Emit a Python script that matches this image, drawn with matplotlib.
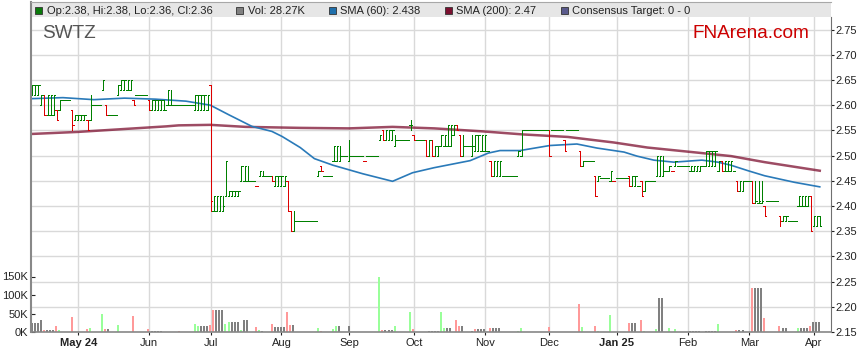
import numpy as np
import pandas as pd
import matplotlib
matplotlib.use("Agg")
import matplotlib.pyplot as plt
from matplotlib.patches import Rectangle

plt.rcParams["font.family"] = ["Liberation Sans", "DejaVu Sans"]

# daily bars, first trading day 10 Apr 2024 (weekdays only)
opens = [
    2.62, 2.62, 2.62, 2.60, 2.62, 2.58, 2.58, 2.58, 2.59, 2.59,
    2.61, 2.61, 2.61, 2.59, 2.57, 2.57, 2.57, 2.57, 2.57, 2.57,
    2.60, 2.60, 2.60, 2.63, 2.60, 2.58, 2.58, 2.58, 2.62, 2.63,
    2.63, 2.63, 2.63, 2.61, 2.62, 2.62, 2.62, 2.62, 2.61, 2.59,
    2.59, 2.59, 2.59, 2.59, 2.60, 2.60, 2.60, 2.60, 2.60, 2.60,
    2.60, 2.60, 2.60, 2.59, 2.59, 2.59, 2.59, 2.59, 2.64, 2.39,
    2.39, 2.39, 2.39, 2.42, 2.42, 2.42, 2.42, 2.42, 2.45, 2.45,
    2.45, 2.45, 2.45, 2.44, 2.46, 2.46, 2.46, 2.46, 2.46, 2.44,
    2.44, 2.44, 2.44, 2.45, 2.39, 2.35, 2.37, 2.37, 2.37, 2.37,
    2.37, 2.37, 2.37, 2.46, 2.48, 2.46, 2.46, 2.46, 2.49, 2.49,
    2.49, 2.50, 2.50, 2.49, 2.50, 2.50, 2.50, 2.50, 2.49, 2.50,
    2.50, 2.50, 2.50, 2.53, 2.55, 2.53, 2.53, 2.53, 2.52, 2.53,
    2.53, 2.53, 2.53, 2.56, 2.54, 2.53, 2.53, 2.53, 2.53, 2.50,
    2.53, 2.50, 2.50, 2.52, 2.52, 2.52, 2.52, 2.54, 2.56, 2.54,
    2.50, 2.52, 2.52, 2.50, 2.51, 2.51, 2.51, 2.51, 2.51, 2.49,
    2.46, 2.46, 2.46, 2.46, 2.46, 2.46, 2.46, 2.46, 2.50, 2.50,
    2.55, 2.55, 2.55, 2.55, 2.55, 2.55, 2.55, 2.55, 2.55, 2.55,
    2.55, 2.55, 2.55, 2.53, 2.55, 2.55, 2.55, 2.55, 2.51, 2.48,
    2.49, 2.49, 2.49, 2.46, 2.45, 2.455, 2.455, 2.455, 2.45, 2.45,
    2.455, 2.455, 2.455, 2.455, 2.46, 2.44, 2.44, 2.44, 2.45, 2.43,
    2.45, 2.45, 2.45, 2.46, 2.46, 2.46, 2.47, 2.47, 2.47, 2.48,
    2.48, 2.48, 2.48, 2.48, 2.47, 2.47, 2.47, 2.47, 2.48, 2.48,
    2.48, 2.48, 2.48, 2.47, 2.49, 2.47, 2.47, 2.47, 2.47, 2.45,
    2.43, 2.43, 2.45, 2.45, 2.45, 2.405, 2.405, 2.405, 2.40, 2.41,
    2.41, 2.41, 2.41, 2.38, 2.37, 2.37, 2.37, 2.37, 2.37, 2.40,
    2.40, 2.40, 2.40, 2.42, 2.36, 2.36, 2.38,
]
highs = [
    2.64, 2.64, 2.64, 2.62, 2.62, 2.62, 2.62, 2.62, 2.59, 2.61,
    2.61, 2.61, 2.61, 2.59, 2.58, 2.58, 2.58, 2.58, 2.57, 2.62,
    2.60, 2.60, 2.60, 2.65, 2.60, 2.58, 2.58, 2.58, 2.64, 2.65,
    2.65, 2.65, 2.65, 2.61, 2.62, 2.62, 2.62, 2.62, 2.61, 2.61,
    2.61, 2.61, 2.61, 2.61, 2.63, 2.63, 2.60, 2.60, 2.60, 2.60,
    2.60, 2.60, 2.60, 2.62, 2.62, 2.62, 2.62, 2.62, 2.64, 2.42,
    2.42, 2.42, 2.42, 2.49, 2.43, 2.43, 2.43, 2.43, 2.48, 2.48,
    2.48, 2.45, 2.45, 2.44, 2.47, 2.47, 2.46, 2.46, 2.46, 2.46,
    2.46, 2.46, 2.46, 2.45, 2.39, 2.39, 2.37, 2.37, 2.37, 2.37,
    2.37, 2.37, 2.37, 2.47, 2.48, 2.46, 2.46, 2.46, 2.52, 2.52,
    2.52, 2.50, 2.50, 2.53, 2.50, 2.50, 2.50, 2.50, 2.49, 2.50,
    2.50, 2.50, 2.50, 2.54, 2.55, 2.55, 2.55, 2.55, 2.54, 2.53,
    2.53, 2.53, 2.53, 2.57, 2.54, 2.53, 2.53, 2.53, 2.53, 2.53,
    2.53, 2.52, 2.52, 2.54, 2.54, 2.56, 2.56, 2.56, 2.56, 2.54,
    2.54, 2.52, 2.52, 2.54, 2.54, 2.54, 2.54, 2.54, 2.51, 2.49,
    2.49, 2.49, 2.49, 2.46, 2.46, 2.46, 2.46, 2.46, 2.51, 2.55,
    2.55, 2.55, 2.55, 2.55, 2.55, 2.55, 2.55, 2.55, 2.55, 2.55,
    2.55, 2.55, 2.55, 2.53, 2.55, 2.55, 2.55, 2.55, 2.51, 2.49,
    2.49, 2.49, 2.49, 2.46, 2.46, 2.455, 2.455, 2.455, 2.47, 2.45,
    2.455, 2.455, 2.455, 2.455, 2.46, 2.46, 2.46, 2.44, 2.45, 2.45,
    2.45, 2.45, 2.45, 2.50, 2.50, 2.50, 2.47, 2.48, 2.47, 2.49,
    2.48, 2.48, 2.48, 2.48, 2.48, 2.48, 2.48, 2.48, 2.48, 2.51,
    2.51, 2.51, 2.51, 2.49, 2.49, 2.49, 2.49, 2.49, 2.47, 2.45,
    2.45, 2.45, 2.45, 2.45, 2.45, 2.45, 2.45, 2.45, 2.40, 2.41,
    2.41, 2.41, 2.41, 2.38, 2.38, 2.38, 2.37, 2.37, 2.37, 2.42,
    2.42, 2.42, 2.42, 2.42, 2.38, 2.38, 2.38,
]
lows = [
    2.62, 2.62, 2.62, 2.60, 2.58, 2.58, 2.58, 2.58, 2.57, 2.59,
    2.61, 2.61, 2.61, 2.55, 2.57, 2.57, 2.57, 2.57, 2.55, 2.57,
    2.60, 2.60, 2.60, 2.63, 2.58, 2.58, 2.58, 2.58, 2.62, 2.63,
    2.63, 2.63, 2.63, 2.60, 2.62, 2.62, 2.62, 2.62, 2.59, 2.59,
    2.59, 2.59, 2.59, 2.59, 2.60, 2.60, 2.60, 2.60, 2.60, 2.60,
    2.60, 2.60, 2.60, 2.59, 2.59, 2.59, 2.59, 2.59, 2.39, 2.39,
    2.39, 2.39, 2.39, 2.42, 2.42, 2.42, 2.42, 2.42, 2.45, 2.45,
    2.45, 2.45, 2.45, 2.44, 2.46, 2.46, 2.46, 2.46, 2.45, 2.44,
    2.44, 2.44, 2.44, 2.39, 2.35, 2.35, 2.37, 2.37, 2.37, 2.37,
    2.37, 2.37, 2.37, 2.46, 2.47, 2.46, 2.46, 2.46, 2.49, 2.49,
    2.49, 2.50, 2.50, 2.49, 2.50, 2.50, 2.50, 2.50, 2.49, 2.50,
    2.50, 2.50, 2.50, 2.53, 2.53, 2.53, 2.53, 2.53, 2.52, 2.53,
    2.53, 2.53, 2.53, 2.55, 2.53, 2.53, 2.53, 2.53, 2.50, 2.50,
    2.50, 2.50, 2.50, 2.52, 2.52, 2.52, 2.52, 2.54, 2.55, 2.50,
    2.50, 2.52, 2.52, 2.50, 2.51, 2.51, 2.51, 2.51, 2.51, 2.46,
    2.46, 2.46, 2.46, 2.46, 2.46, 2.46, 2.46, 2.46, 2.50, 2.50,
    2.55, 2.55, 2.55, 2.55, 2.55, 2.55, 2.55, 2.55, 2.50, 2.55,
    2.55, 2.55, 2.55, 2.51, 2.55, 2.55, 2.55, 2.55, 2.48, 2.48,
    2.49, 2.49, 2.49, 2.42, 2.45, 2.455, 2.455, 2.455, 2.45, 2.45,
    2.455, 2.455, 2.455, 2.455, 2.44, 2.44, 2.44, 2.44, 2.42, 2.43,
    2.45, 2.45, 2.45, 2.46, 2.46, 2.46, 2.47, 2.47, 2.47, 2.48,
    2.48, 2.48, 2.48, 2.48, 2.47, 2.47, 2.47, 2.47, 2.48, 2.48,
    2.48, 2.48, 2.48, 2.47, 2.47, 2.47, 2.47, 2.47, 2.47, 2.43,
    2.43, 2.43, 2.45, 2.45, 2.405, 2.405, 2.405, 2.405, 2.38, 2.41,
    2.41, 2.41, 2.41, 2.36, 2.37, 2.37, 2.37, 2.37, 2.37, 2.40,
    2.40, 2.40, 2.40, 2.35, 2.36, 2.36, 2.36,
]
closes = [
    2.64, 2.64, 2.64, 2.62, 2.58, 2.62, 2.62, 2.62, 2.57, 2.61,
    2.61, 2.61, 2.61, 2.56, 2.58, 2.58, 2.58, 2.58, 2.55, 2.60,
    2.60, 2.60, 2.60, 2.65, 2.58, 2.58, 2.58, 2.58, 2.64, 2.65,
    2.65, 2.65, 2.65, 2.60, 2.62, 2.62, 2.62, 2.62, 2.59, 2.61,
    2.61, 2.61, 2.61, 2.59, 2.63, 2.60, 2.60, 2.60, 2.60, 2.60,
    2.60, 2.60, 2.60, 2.62, 2.62, 2.62, 2.62, 2.62, 2.41, 2.42,
    2.42, 2.42, 2.40, 2.49, 2.43, 2.43, 2.43, 2.43, 2.48, 2.48,
    2.45, 2.45, 2.45, 2.44, 2.47, 2.46, 2.46, 2.46, 2.45, 2.46,
    2.46, 2.46, 2.46, 2.39, 2.35, 2.37, 2.37, 2.37, 2.37, 2.37,
    2.37, 2.37, 2.37, 2.47, 2.47, 2.46, 2.46, 2.46, 2.52, 2.52,
    2.50, 2.50, 2.50, 2.50, 2.50, 2.50, 2.50, 2.50, 2.49, 2.50,
    2.50, 2.50, 2.50, 2.54, 2.53, 2.55, 2.55, 2.55, 2.53, 2.53,
    2.53, 2.53, 2.53, 2.56, 2.53, 2.53, 2.53, 2.53, 2.50, 2.53,
    2.50, 2.52, 2.52, 2.54, 2.54, 2.56, 2.56, 2.56, 2.55, 2.50,
    2.52, 2.52, 2.52, 2.52, 2.54, 2.54, 2.54, 2.54, 2.51, 2.46,
    2.49, 2.49, 2.49, 2.46, 2.46, 2.46, 2.46, 2.46, 2.51, 2.55,
    2.55, 2.55, 2.55, 2.55, 2.55, 2.55, 2.55, 2.55, 2.50, 2.55,
    2.55, 2.55, 2.55, 2.51, 2.55, 2.55, 2.55, 2.55, 2.48, 2.49,
    2.49, 2.49, 2.49, 2.42, 2.46, 2.455, 2.455, 2.455, 2.47, 2.45,
    2.455, 2.455, 2.455, 2.455, 2.44, 2.46, 2.46, 2.44, 2.42, 2.45,
    2.45, 2.45, 2.45, 2.50, 2.50, 2.47, 2.47, 2.48, 2.47, 2.49,
    2.48, 2.48, 2.48, 2.48, 2.48, 2.48, 2.48, 2.48, 2.48, 2.51,
    2.51, 2.51, 2.51, 2.49, 2.47, 2.49, 2.49, 2.49, 2.47, 2.43,
    2.45, 2.45, 2.45, 2.45, 2.405, 2.41, 2.41, 2.41, 2.38, 2.41,
    2.41, 2.41, 2.41, 2.37, 2.38, 2.38, 2.37, 2.37, 2.37, 2.42,
    2.42, 2.42, 2.42, 2.35, 2.38, 2.38, 2.36,
]
# volume in thousands
volumes = [
    24, 24, 24, 32, 6, 6, 6, 6, 17, 6,
    0, 0, 0, 40, 0, 0, 0, 0, 9, 12,
    0, 0, 0, 48, 9, 9, 0, 0, 19, 0,
    0, 0, 0, 43, 0, 0, 0, 0, 9, 3,
    3, 3, 3, 0, 0, 0, 0, 0, 3, 0,
    0, 0, 0, 22, 15, 15, 15, 15, 19, 59,
    59, 59, 59, 22, 27, 27, 27, 27, 6, 32,
    32, 0, 0, 13, 6, 3, 0, 0, 21, 13,
    13, 13, 13, 54, 19, 19, 0, 0, 0, 0,
    0, 0, 0, 10, 4, 0, 0, 0, 9, 15,
    15, 0, 0, 15, 0, 0, 0, 0, 0, 0,
    0, 0, 0, 148, 6, 6, 6, 6, 17, 0,
    0, 0, 0, 53, 8, 0, 0, 0, 0, 3,
    3, 3, 3, 55, 12, 12, 12, 0, 32, 15,
    15, 0, 0, 3, 9, 9, 9, 9, 0, 10,
    10, 10, 10, 0, 0, 0, 0, 0, 3, 10,
    0, 0, 0, 0, 0, 0, 0, 0, 13, 0,
    0, 0, 0, 0, 0, 0, 0, 0, 75, 13,
    0, 0, 0, 17, 3, 0, 0, 0, 45, 0,
    0, 0, 0, 0, 24, 24, 24, 0, 32, 3,
    0, 0, 0, 9, 92, 92, 0, 11, 0, 9,
    0, 0, 0, 0, 3, 3, 3, 3, 0, 3,
    3, 3, 3, 22, 0, 0, 0, 0, 0, 6,
    6, 6, 0, 0, 120, 120, 120, 120, 38, 0,
    0, 0, 0, 17, 11, 11, 0, 0, 0, 11,
    11, 11, 11, 17, 28, 28, 28.27,
]
# g = up bar, r = down bar
bar_colors = (
    "ggggrgggrg" "gggrggggrg" "ggggrggggg" "gggrggggrg" "gggggggggg"
    "ggggggggrg" "gggggggggg" "gggrggggrg" "gggrrggggg" "ggggrggggg"
    "ggggggggrg" "ggggrggggg" "ggggrgggrg" "rgggggggrr" "gggggggggr"
    "gggggggggg" "ggggggggrg" "gggrggggrg" "gggrgggggr" "ggggrgggrg"
    "ggggggggrg" "gggggggggg" "ggggrggggr" "ggggrgggrg" "gggrgggggg"
    "gggrggg"
)
# g = up volume, r = down volume, k = unchanged
vol_colors = (
    "kkkkrkkkrg" "kkkrkkkkrg" "kkkgrkkkgk" "kkkrkkkkrk" "kkkkkkkkrk"
    "kkkggkkkrr" "kkkggkkkgk" "kkkrgkkkrk" "kkkrrkkkkk" "kkkgrkkkgg"
    "kkkkkkkkkk" "kkkgrkkkgk" "kkkgrkkkkk" "kkkggkkkrr" "kkkkrkkkkr"
    "kkkkkkkkgg" "kkkkkkkkrk" "kkkkkkkkrg" "kkkrgkkkgk" "kkkkrkkkrg"
    "kkkgkkkgkg" "kkkkkkkkkk" "kkkgkkkkkr" "kkkkrkkkrk" "kkkrkkkkkg"
    "kkkrkkk"
)

# moving averages (day index, value)
sma60_day = [0, 10, 20, 30, 40, 50, 57.9, 63.9, 71.4, 77.9, 81.2, 87.1, 91.7,
             97.7, 107.4, 117.1, 123.6, 130.6, 142.3, 148.2, 152.0, 158.5,
             168.2, 177.0, 183.5, 192.3, 196.5, 202.0, 208.5, 217.6, 222.8,
             227.0, 232.6, 238.0, 247.7, 255.9]
sma60_val = [2.613, 2.615, 2.611, 2.614, 2.612, 2.608, 2.600, 2.581, 2.558,
             2.548, 2.538, 2.516, 2.494, 2.481, 2.464, 2.449, 2.466, 2.476,
             2.490, 2.505, 2.510, 2.510, 2.520, 2.523, 2.515, 2.507, 2.499,
             2.491, 2.487, 2.491, 2.487, 2.481, 2.470, 2.460, 2.447, 2.438]
sma200_day = [0, 14.9, 43.6, 47.6, 57.9, 69.3, 87.1, 103.0, 117.1, 130.7,
              146.5, 159.5, 174.1, 189.0, 199.9, 217.6, 227.1, 238.0, 255.9]
sma200_val = [2.543, 2.547, 2.558, 2.560, 2.561, 2.557, 2.555, 2.554, 2.557,
              2.554, 2.548, 2.542, 2.537, 2.526, 2.516, 2.505, 2.499, 2.487,
              2.470]

price_ticks = [2.15, 2.20, 2.25, 2.30, 2.35, 2.40, 2.45, 2.50, 2.55, 2.60,
               2.65, 2.70, 2.75]
vol_ticks = [0, 50, 100, 150]
vol_tick_labels = ["0K", "50K", "100K", "150K"]

W, H = 859, 363
dates = pd.bdate_range("2024-04-10", periods=len(closes))
x = np.arange(len(closes))

fig = plt.figure(figsize=(W / 100, H / 100), dpi=100)
ax = fig.add_axes([31 / W, 31 / H, 800 / W, 330 / H])
ax.set_xlim(-0.37, 259.55)
ax.set_ylim(2.15, 2.15 + 330 * 0.05 / 25.2)

# volume axis first, so the price axis keeps its ticks on the right
axv = ax.twinx()
ax.yaxis.tick_right()
ax.yaxis.set_label_position("right")

# grid
ax.set_yticks(price_ticks)
ax.set_yticklabels([f"{p:.2f}" for p in price_ticks])
month_pos = [k for k in range(1, len(dates)) if dates[k].month != dates[k - 1].month]
month_lab = []
for n, k in enumerate(month_pos):
    if n == 0 or dates[k].month == 1:
        month_lab.append(dates[k].strftime("%b %y"))
    else:
        month_lab.append(dates[k].strftime("%b"))
ax.set_xticks(month_pos)
ax.set_xticklabels(month_lab)
for lab, txt in zip(ax.get_xticklabels(), month_lab):
    if " " in txt:
        lab.set_fontweight("bold")
ax.grid(color="#d9d9d9", lw=1)
ax.set_axisbelow(True)
ax.tick_params(axis="y", which="both", left=False, labelleft=False,
               right=True, labelright=True, direction="out", length=2.2,
               pad=0.8, labelsize=8, colors="#222222")
ax.tick_params(axis="x", direction="out", length=2.2, pad=2.2, labelsize=8,
               colors="#222222")
for s in ax.spines.values():
    s.set_visible(False)

# moving averages
ax.plot(sma200_day, sma200_val, color="#7d1030", lw=1.8, alpha=0.75, zorder=2)
ax.plot(sma60_day, sma60_val, color="#2a7ab9", lw=1.2, zorder=2)

# OHLC bars
cols = ["#008000" if c == "g" else "#dd0000" for c in bar_colors]
xs = np.array(x, dtype=float)
ax.vlines(xs, lows, highs, colors=cols, lw=0.72, antialiased=False, zorder=3)
ax.hlines(opens, xs - 0.45, xs, colors=cols, lw=0.72, antialiased=False, zorder=3)
ax.hlines(closes, xs, xs + 0.45, colors=cols, lw=0.72, antialiased=False, zorder=3)

# volume
vtop = 330 / 18.5 * 50
axv.set_ylim(0, vtop)
vmap = {"g": "#99ff99", "r": "#ff9999", "k": "#808080"}
axv.bar(xs - 0.2, volumes, width=0.65, color=[vmap[c] for c in vol_colors],
        lw=0, zorder=2)
axv.set_yticks(vol_ticks)
axv.set_yticklabels(vol_tick_labels)
axv.tick_params(axis="y", which="both", left=True, labelleft=True,
                right=False, labelright=False, direction="in", length=3,
                pad=2.2, labelsize=8, colors="#222222")
band = (332 - 17) / 330
axv.add_patch(Rectangle((0, band), 1, 1 - band, transform=axv.transAxes,
                        facecolor="#e6e6e6", edgecolor="none", zorder=10,
                        clip_on=False))
axv.spines["left"].set_color("#888888")
axv.spines["left"].set_linewidth(1.5)
axv.spines["bottom"].set_color("#888888")
axv.spines["bottom"].set_linewidth(1.2)
axv.spines["top"].set_color("#a8a8a8")
axv.spines["right"].set_color("#707070")
axv.spines["right"].set_bounds(0, vtop * band)
for s in axv.spines.values():
    s.set_zorder(11)


def fx(px):
    return px / W


def fy(py):
    return 1 - py / H


# legend strip
legend_items = [
    (35, "#0a7a0a", 47, "Op:2.38, Hi:2.38, Lo:2.36, Cl:2.36"),
    (236, "#808080", 247.5, "Vol: 28.27K"),
    (329, "#1f6fab", 340, "SMA (60): 2.438"),
    (445, "#7b1030", 456.5, "SMA (200): 2.47"),
    (560.5, "#5a5a8c", 572, "Consensus Target: 0 - 0"),
]
for sx, col, tx, txt in legend_items:
    fig.add_artist(Rectangle((fx(sx), fy(14)), 7 / W, 7 / H,
                             transform=fig.transFigure, facecolor=col,
                             edgecolor="#333333", lw=0.6, zorder=12))
    fig.text(fx(tx), fy(10.5), txt, fontsize=8, color="#222222",
             ha="left", va="center", zorder=12)

fig.text(fx(42), fy(33), "SWTZ", fontsize=13.7, color="#555555",
         ha="left", va="center")
fig.text(fx(692), fy(33), "FNArena.com", fontsize=13.7, color="#cc0000",
         ha="left", va="center")

fig.savefig("out.png", dpi=100, facecolor="white")
